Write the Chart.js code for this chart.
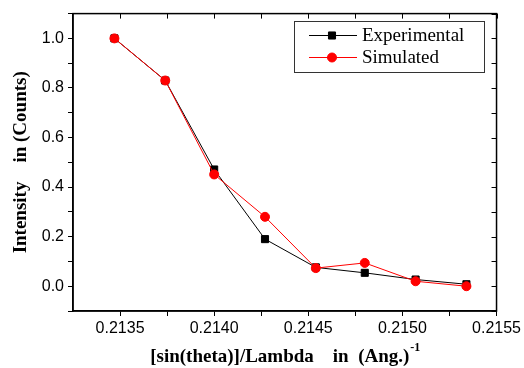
<!DOCTYPE html>
<html>
<head>
<meta charset="utf-8">
<script src="https://cdn.jsdelivr.net/npm/chart.js@4/dist/chart.umd.min.js"></script>
<style>
    html, body { margin: 0; padding: 0; background: #fff; }
    #wrap { width: 524px; height: 368px; }
</style>
</head>
<body>
<div id="wrap"><canvas id="intensityChart"></canvas></div>
<script>
var xValues = [0.21347, 0.21374, 0.21400, 0.21427, 0.21454, 0.21480, 0.21507, 0.21534];
var experimental = [1.0, 0.83, 0.471, 0.19, 0.076, 0.054, 0.027, 0.008];
var simulated = [1.0, 0.83, 0.451, 0.28, 0.073, 0.094, 0.02, 0.0];
var xTicks = [0.2135, 0.21375, 0.214, 0.21425, 0.2145, 0.21475, 0.215, 0.21525, 0.2155];
var yTicks = [-0.1, 0, 0.1, 0.2, 0.3, 0.4, 0.5, 0.6, 0.7, 0.8, 0.9, 1.0, 1.1];

function toPoints(ys) {
    return xValues.map(function (x, i) { return { x: x, y: ys[i] }; });
}

function isMultiple(v, step) {
    var r = v / step;
    return Math.abs(r - Math.round(r)) < 1e-6;
}

// frame, inward ticks on top/right, legend box and x title with superscript
var decorPlugin = {
    id: "decor",
    afterDraw: function (chart) {
        var ctx = chart.ctx;
        var a = chart.chartArea;
        var xs = chart.scales.x;
        var ys = chart.scales.y;
        ctx.save();
        ctx.strokeStyle = "#000";
        ctx.lineWidth = 1.5;
        ctx.strokeRect(a.left, a.top, a.right - a.left, a.bottom - a.top);

        ctx.lineWidth = 1;
        ctx.beginPath();
        xTicks.forEach(function (v) {
            var px = Math.round(xs.getPixelForValue(v)) + 0.5;
            ctx.moveTo(px, a.top);
            ctx.lineTo(px, a.top + 5);
        });
        yTicks.forEach(function (v) {
            var py = Math.round(ys.getPixelForValue(v)) + 0.5;
            ctx.moveTo(a.right, py);
            ctx.lineTo(a.right - 5, py);
        });
        ctx.stroke();

        // legend
        var lx = 294, ly = 21, lw = 190, lh = 51;
        ctx.fillStyle = "#fff";
        ctx.fillRect(lx, ly, lw, lh);
        ctx.strokeStyle = "#333";
        ctx.lineWidth = 1;
        ctx.strokeRect(lx + 0.5, ly + 0.5, lw, lh);
        ctx.font = "19px 'Liberation Serif'";
        ctx.textBaseline = "middle";
        ctx.textAlign = "left";
        chart.data.datasets.forEach(function (ds, i) {
            var cy = ly + 14 + i * 22;
            ctx.strokeStyle = ds.borderColor;
            ctx.fillStyle = ds.backgroundColor;
            ctx.lineWidth = 1;
            ctx.beginPath();
            ctx.moveTo(309, cy + 0.5);
            ctx.lineTo(357, cy + 0.5);
            ctx.stroke();
            Chart.helpers.drawPoint(ctx, {
                pointStyle: ds.pointStyle,
                radius: ds.pointRadius,
                borderWidth: 1
            }, 332, cy + 0.5);
            ctx.fillStyle = "#000";
            ctx.fillText(ds.label, 362, cy + 1);
        });

        // x axis title
        var main = "[sin(theta)]/Lambda    in  (Ang.)";
        ctx.font = "bold 19px 'Liberation Serif'";
        var w1 = ctx.measureText(main).width;
        ctx.font = "bold 12px 'Liberation Serif'";
        var w2 = ctx.measureText("-1").width;
        var sx = (a.left + a.right) / 2 - (w1 + w2) / 2;
        ctx.fillStyle = "#000";
        ctx.textBaseline = "alphabetic";
        ctx.font = "bold 19px 'Liberation Serif'";
        ctx.fillText(main, sx, 362);
        ctx.font = "bold 12px 'Liberation Serif'";
        ctx.fillText("-1", sx + w1 + 1, 351);
        ctx.restore();
    }
};

function initIntensityChart() {
    var ctx = document.getElementById("intensityChart");
    if (!ctx) return;

    new Chart(ctx, {
        type: "line",
        data: {
            datasets: [
                {
                    label: "Experimental",
                    data: toPoints(experimental),
                    borderColor: "#000000",
                    backgroundColor: "#000000",
                    borderWidth: 1,
                    pointStyle: "rect",
                    pointRadius: 5,
                    pointBorderWidth: 1,
                    tension: 0,
                    order: 1
                },
                {
                    label: "Simulated",
                    data: toPoints(simulated),
                    borderColor: "#ff0000",
                    backgroundColor: "#ff0000",
                    borderWidth: 1,
                    pointStyle: "circle",
                    pointRadius: 4.5,
                    pointBorderWidth: 1,
                    tension: 0,
                    order: 0
                }
            ]
        },
        options: {
            responsive: true,
            maintainAspectRatio: false,
            animation: false,
            layout: { padding: { top: 13, right: 25, left: 0, bottom: 0 } },
            plugins: {
                legend: { display: false },
                tooltip: { enabled: false }
            },
            scales: {
                x: {
                    type: "linear",
                    min: 0.21325,
                    max: 0.2155,
                    afterBuildTicks: function (s) {
                        s.ticks = xTicks.map(function (v) { return { value: v }; });
                    },
                    afterFit: function (s) { s.height = 57; },
                    grid: { drawOnChartArea: false, tickLength: 5, color: "#000" },
                    border: { color: "#000", width: 1.5 },
                    ticks: {
                        autoSkip: false,
                        maxRotation: 0,
                        padding: 3,
                        color: "#000",
                        font: { family: "'Liberation Sans'", size: 16 },
                        callback: function (v) {
                            return isMultiple(v, 0.0005) ? v.toFixed(4) : "";
                        }
                    }
                },
                y: {
                    min: -0.1,
                    max: 1.1,
                    afterBuildTicks: function (s) {
                        s.ticks = yTicks.map(function (v) { return { value: v }; });
                    },
                    afterFit: function (s) { s.width = 73; },
                    grid: { drawOnChartArea: false, tickLength: 5, color: "#000" },
                    border: { color: "#000", width: 1.5 },
                    ticks: {
                        autoSkip: false,
                        padding: 4,
                        color: "#000",
                        font: { family: "'Liberation Sans'", size: 16 },
                        callback: function (v) {
                            return isMultiple(v, 0.2) ? v.toFixed(1) : "";
                        }
                    },
                    title: {
                        display: true,
                        text: "Intensity    in (Counts)",
                        color: "#000",
                        padding: { top: 10 },
                        font: { family: "'Liberation Serif'", size: 19, weight: "bold" }
                    }
                }
            }
        },
        plugins: [decorPlugin]
    });
}

initIntensityChart();
</script>
</body>
</html>
